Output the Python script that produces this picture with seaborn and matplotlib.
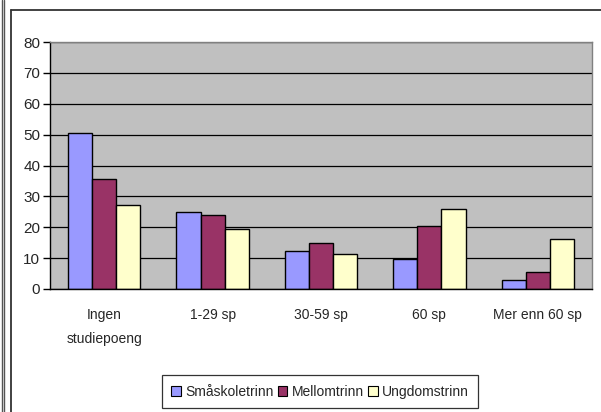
import matplotlib
matplotlib.use('Agg')
import matplotlib.pyplot as plt
from matplotlib.lines import Line2D
from matplotlib.patches import Rectangle
import seaborn as sns
import pandas as pd

categories = ['Ingen\nstudiepoeng', '1-29 sp', '30-59 sp', '60 sp', 'Mer enn 60 sp']
series = ['Småskoletrinn', 'Mellomtrinn', 'Ungdomstrinn']
smaskole = [50.5, 24.9, 12.3, 9.8, 2.8]
mellom = [35.6, 24.0, 14.9, 20.3, 5.4]
ungdom = [27.2, 19.4, 11.3, 26.0, 16.1]
colors = ['#9999FF', '#993366', '#FFFFCC']

df = pd.DataFrame({
    'Kategori': categories * 3,
    'Trinn': [s for s in series for _ in categories],
    'Verdi': smaskole + mellom + ungdom,
})

sns.set_style('white')
plt.rcParams['font.family'] = ['Liberation Sans Narrow', 'Liberation Sans', 'DejaVu Sans']

fig = plt.figure(figsize=(6.01, 4.12), dpi=100)
W, H = 601, 412
ax = fig.add_axes([50 / W, 1 - 289 / H, (592 - 50) / W, (289 - 42) / H])
ax.set_facecolor('#C0C0C0')

sns.barplot(data=df, x='Kategori', y='Verdi', hue='Trinn', palette=colors,
            width=0.667, gap=0, edgecolor='black', linewidth=1.0,
            saturation=1, ax=ax, legend=True)

ax.set_ylim(0, 80)
ax.set_xlim(-0.5, len(categories) - 0.5)
ax.set_yticks(range(0, 90, 10))
ax.set_yticklabels([str(v) for v in range(0, 90, 10)], fontsize=11)
ax.yaxis.grid(True, color='black', linewidth=0.9)
ax.set_axisbelow(True)
ax.set_xlabel('')
ax.set_ylabel('')

# category boundary ticks on x, labels centered
ax.set_xticks(range(len(categories)))
ax.set_xticklabels(categories, fontsize=10, linespacing=1.9)
ax.tick_params(axis='x', length=0, pad=14)
ax.set_xticks([i - 0.5 for i in range(len(categories) + 1)], minor=True)
ax.tick_params(axis='x', which='minor', length=5, width=1, color='black', direction='out')
ax.tick_params(axis='y', length=5, width=1, color='black', direction='out', left=True, pad=2)

for s in ['left', 'bottom']:
    ax.spines[s].set_color('black')
    ax.spines[s].set_linewidth(1)
for s in ['top', 'right']:
    ax.spines[s].set_color('#808080')
    ax.spines[s].set_linewidth(1)

ax.get_legend().remove()
handles = [Rectangle((0, 0), 1, 1, facecolor=c, edgecolor='black', linewidth=0.8) for c in colors]
leg = fig.legend(handles, series, loc='upper center', bbox_to_anchor=(320 / W, 1 - 375 / H),
                 ncol=3, frameon=True, fancybox=False, fontsize=10,
                 handlelength=0.7, handleheight=0.7, handletextpad=0.3,
                 columnspacing=0.3, borderpad=0.7, borderaxespad=0, edgecolor='black')
leg.get_frame().set_linewidth(0.9)

# chart frame and left border lines
fig.add_artist(Line2D([11 / W, 11 / W], [0, 1 - 10 / H], color='#333333', linewidth=1.3))
fig.add_artist(Line2D([11 / W, 1], [1 - 10 / H, 1 - 10 / H], color='#333333', linewidth=1.3))
fig.add_artist(Line2D([1.5 / W, 1.5 / W], [0, 1], color='#555555', linewidth=1.0))
fig.add_artist(Line2D([4 / W, 4 / W], [0, 1], color='#555555', linewidth=1.0))

fig.savefig('out.png', dpi=100)
